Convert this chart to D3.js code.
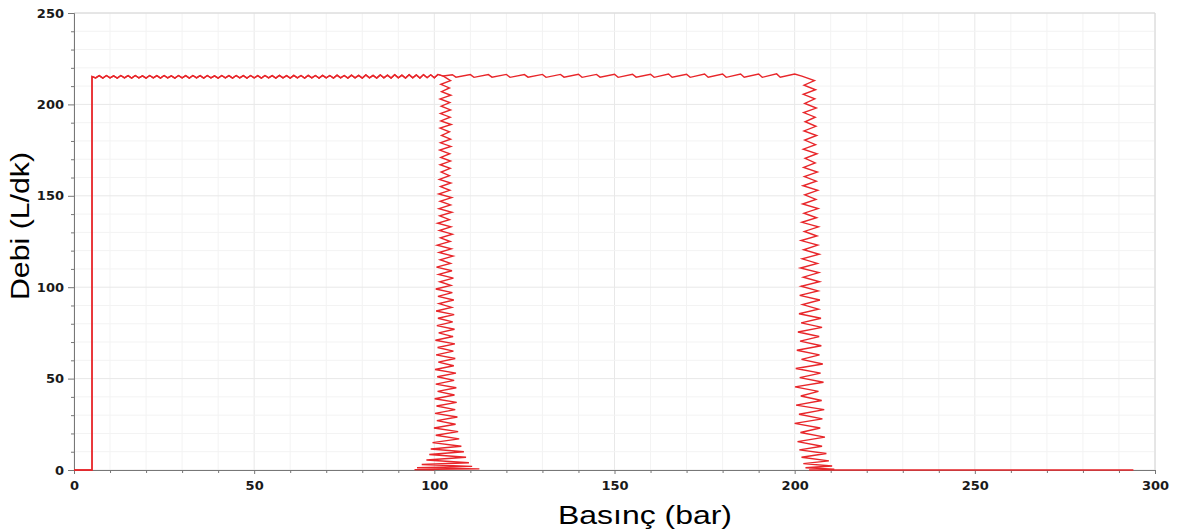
<!DOCTYPE html>
<html>
<head>
<meta charset="utf-8">
<script src="https://cdn.jsdelivr.net/npm/d3@7"></script>
<style>
  body { margin: 0; background: #fff; }
  svg { display: block; }
  .tick text { font-family: "DejaVu Sans", sans-serif; font-weight: bold; font-size: 13px; fill: #1a1a1a; }
  .title { font-family: "Liberation Sans", Arial, sans-serif; font-size: 25px; fill: #000; }
</style>
</head>
<body>
<svg id="chart"></svg>
<script>
const width = 1179;
const height = 531;

// Axis ticks
const xTicks = [0, 50, 100, 150, 200, 250, 300];
const yTicks = [0, 50, 100, 150, 200, 250];

// Shared start: rise at 5 bar up to ~215 L/dk
const startRise = [[0, 0], [5, 0], [5, 215.2]];

// Top flat section (dense wiggle) from 5 to ~102 bar
const topFlat = [[6,214.5],[7,215.7],[8,214.4],[9,215.8],[10,214.5],[11,215.6],[12,214.4],[13,215.8],[14,214.5],[15,215.7],
  [16,214.4],[17,215.8],[18,214.5],[19,215.6],[20,214.4],[21,215.8],[22,214.5],[23,215.7],[24,214.4],[25,215.8],
  [26,214.5],[27,215.6],[28,214.4],[29,215.8],[30,214.5],[31,215.7],[32,214.4],[33,215.8],[34,214.5],[35,215.7],
  [36,214.4],[37,215.8],[38,214.5],[39,215.6],[40,214.4],[41,215.8],[42,214.5],[43,215.7],[44,214.4],[45,215.8],
  [46,214.5],[47,215.7],[48,214.4],[49,215.8],[50,214.5],[51,215.7],[52,214.4],[53,215.8],[54,214.5],[55,215.7],
  [56,214.4],[57,215.9],[58,214.5],[59,215.7],[60,214.4],[61,215.9],[62,214.5],[63,215.8],[64,214.4],[65,215.9],
  [66,214.5],[67,215.8],[68,214.4],[69,215.9],[70,214.5],[71,215.8],[72,214.4],[73,216.0],[74,214.5],[75,215.8],
  [76,214.4],[77,216.0],[78,214.5],[79,215.9],[80,214.4],[81,216.1],[82,214.5],[83,215.9],[84,214.4],[85,216.1],
  [86,214.5],[87,216.0],[88,214.4],[89,216.2],[90,214.5],[91,216.0],[92,214.4],[93,216.2],[94,214.5],[95,216.1],
  [96,214.4],[97,216.3],[98,214.6],[99,216.2],[100,214.6],[101,216.4],[102.5,215.5]];

// Relief at ~100 bar: drop to zero
const drop100 = [[104.5,213],[101.8,211],[104.2,209],[102,207],[104.6,205],[101.6,203],[104.3,201],[101.9,199],[104.5,197],[101.7,195],
  [104.4,193],[101.8,191],[104.7,189],[101.6,187],[104.2,185],[102,183],[104.5,181],[101.7,179],[104.6,177],[101.5,175],
  [104.3,173],[101.8,171],[104.5,169],[101.6,167],[104.4,165],[101.9,163],[104.2,161],[101.4,159],[104.6,157],[101.7,155],
  [104.3,153],[101.2,151],[104.8,149],[101.6,147],[104.5,145],[101.3,143],[104.9,141],[101.5,139],[104.2,137],[100.9,135],
  [104.6,133],[101.4,131],[105,129],[101.7,127],[104.4,125],[100.8,123],[104.7,121],[101.3,119],[105.2,117],[101.6,115],
  [104.5,113],[100.6,111],[104.9,109],[101.2,107],[105.3,105],[101.5,103],[104.6,101],[100.4,99],[105,97],[101,95],
  [105.4,93],[101.3,91],[104.8,89],[100.5,87],[105.5,85],[101,83],[105.1,81],[100.7,79],[105.6,77],[101.2,75],
  [105.2,73],[100.3,71],[105.7,69],[100.9,67],[105.3,65],[100.5,63],[105.8,61],[101.1,59],[105.4,57],[100.2,55],
  [106,53],[100.8,51],[105.5,49],[100.4,47],[106.1,45],[100.9,43],[105.6,41],[100.1,39],[106.2,37],[100.6,35],
  [105.8,33],[100.2,31],[106.4,29],[100.7,27],[105.9,25],[99.9,23],[106.6,21],[100.4,19],[106.9,17],[99.5,15],
  [107.5,13],[99,11.5],[108.2,10],[98.6,8.5],[108.8,7],[97.8,5.5],[109.6,4],[96.5,3],[110.5,2],[95.2,1.2],
  [112.5,0.6],[94.5,0.2],[100,0]];

// Continued flat (sawtooth) from ~102 to ~202 bar
const topSaw = [[105,216.2],[106,214.9],[110,216.3],[111,214.8],[115,216.3],[116,214.9],[120,216.4],[121,214.8],[125,216.3],[126,214.9],
  [130,216.4],[131,214.8],[135,216.4],[136,214.9],[140,216.5],[141,214.8],[145,216.4],[146,214.9],[150,216.5],[151,214.8],
  [155,216.5],[156,214.9],[160,216.5],[161,214.8],[165,216.6],[166,214.9],[170,216.5],[171,214.8],[175,216.6],[176,214.9],
  [180,216.6],[181,214.8],[185,216.6],[186,214.9],[190,216.6],[191,214.8],[195,216.7],[196,214.9],[200,216.6],[202,215.5]];

// Relief at ~200 bar: drop to zero, then flat along zero
const drop200 = [[205.5,213],[202.6,210.5],[205.8,208],[202.4,205.5],[205.6,203],[202.8,200.5],[206,198],[202.5,195.5],[205.7,193],
  [202.9,190.5],[205.9,188],[202.6,185.5],[206.1,183],[202.8,180.5],[205.8,178],[202.4,175.5],[206.2,173],[202.9,170.5],[205.7,168],
  [202.5,165.5],[206.3,163],[202.7,160.5],[206,158],[202.3,155.5],[206.4,153],[202.8,150.5],[205.9,148],[202.2,145.5],[206.5,143],
  [202.6,140.5],[206.1,138],[202,135.5],[206.6,133],[202.7,130.5],[206.2,128],[201.8,125.5],[206.4,123],[202.5,120.5],[206.8,118],
  [202.1,115.5],[206.3,113],[201.6,110.5],[206.7,108],[202.4,105.5],[206.9,103],[201.8,100.5],[206.5,98],[201.4,95.5],[207,93],
  [202.2,90.5],[206.6,88],[201.2,85.5],[207.3,83],[201.8,80.5],[207.6,78],[200.9,75.5],[206.8,73],[201.5,70.5],[207.4,68],
  [200.6,65.5],[206.9,63],[201.9,60.5],[207.8,58],[200.3,55.5],[207.2,53],[201.4,50.5],[208,48],[200.1,45.5],[206.6,43],
  [201.7,40.5],[207.5,38],[200.4,35.5],[208.2,33],[201.2,30.5],[207.7,28],[200,25.5],[207.1,23],[201.6,20.5],[208.4,18],
  [200.8,15.5],[207.6,13],[201.3,11],[208.8,9],[201.9,7],[209.5,5],[202.4,3.5],[210.4,2.2],[203,1.2],[211,0.5],[204,0],[294,0]];

const series100 = [...startRise, ...topFlat, ...drop100];
const series200 = [...startRise, ...topFlat, ...topSaw, ...drop200];

const svg = d3.select('#chart').attr('width', width).attr('height', height);

const x = d3.scaleLinear().domain([0, 300]).range([74, 1155]);
const y = d3.scaleLinear().domain([0, 250]).range([470, 13]);

const minorX = d3.range(0, 301, 10);
const minorY = d3.range(0, 251, 10);

// Grid
const grid = svg.append('g');
grid.selectAll('line.gx').data(minorX).enter().append('line')
  .attr('x1', d => x(d)).attr('x2', d => x(d))
  .attr('y1', y(0)).attr('y2', y(250))
  .attr('stroke', d => d % 50 === 0 ? '#e8e8e8' : '#f3f3f3');
grid.selectAll('line.gy').data(minorY).enter().append('line')
  .attr('y1', d => y(d)).attr('y2', d => y(d))
  .attr('x1', x(0)).attr('x2', x(300))
  .attr('stroke', d => d % 50 === 0 ? '#e8e8e8' : '#f3f3f3');

// Frame (top/right light)
svg.append('line').attr('x1', x(0)).attr('x2', x(300)).attr('y1', y(250)).attr('y2', y(250)).attr('stroke', '#d8d8d8');
svg.append('line').attr('x1', x(300)).attr('x2', x(300)).attr('y1', y(250)).attr('y2', y(0)).attr('stroke', '#d8d8d8');

// Axes
const yAxis = svg.append('g').attr('transform', `translate(${x(0)},0)`)
  .call(d3.axisLeft(y).tickValues(yTicks).tickSize(6).tickPadding(4));
const yMinor = svg.append('g').attr('transform', `translate(${x(0)},0)`)
  .call(d3.axisLeft(y).tickValues(minorY.filter(d => d % 50 !== 0)).tickSize(3).tickFormat(''));
const xAxis = svg.append('g').attr('transform', `translate(0,${y(0)})`)
  .call(d3.axisBottom(x).tickValues(xTicks).tickSize(4).tickPadding(7));
const xMinor = svg.append('g').attr('transform', `translate(0,${y(0)})`)
  .call(d3.axisBottom(x).tickValues(minorX.filter(d => d % 50 !== 0)).tickSize(3).tickFormat(''));

[yAxis, yMinor, xAxis, xMinor].forEach(g => {
  g.select('.domain').attr('stroke', '#777');
  g.selectAll('.tick line').attr('stroke', '#777');
});
xMinor.select('.domain').remove();
yMinor.select('.domain').remove();

// Lines
const line = d3.line().x(d => x(d[0])).y(d => y(d[1]));
svg.append('path').datum(series200)
  .attr('fill', 'none').attr('stroke', '#e8262a').attr('stroke-width', 1.4).attr('d', line);
svg.append('path').datum(series100)
  .attr('fill', 'none').attr('stroke', '#e8262a').attr('stroke-width', 1.4).attr('d', line);

// Titles (stretched a little to match the source's wide lettering)
svg.append('text').attr('class', 'title')
  .attr('x', 645).attr('y', 524).attr('text-anchor', 'middle')
  .attr('textLength', 174).attr('lengthAdjust', 'spacingAndGlyphs')
  .text('Basınç (bar)');
svg.append('text').attr('class', 'title')
  .attr('transform', `translate(29,${226}) rotate(-90)`)
  .attr('text-anchor', 'middle')
  .attr('textLength', 148).attr('lengthAdjust', 'spacingAndGlyphs')
  .text('Debi (L/dk)');
</script>
</body>
</html>
